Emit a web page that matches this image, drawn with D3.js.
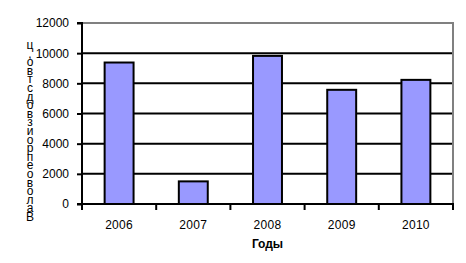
<!DOCTYPE html>
<html>
<head>
<meta charset="utf-8">
<script src="https://cdn.jsdelivr.net/npm/d3@7"></script>
<style>
  body { margin: 0; background: #fff; }
  svg { display: block; font-family: Arial, "Liberation Sans", sans-serif; }
</style>
</head>
<body>
<svg id="chart" width="466" height="263"></svg>
<script>
const years = ['2006', '2007', '2008', '2009', '2010'];
const output = [9380, 1500, 9820, 7570, 8230];
const yTicks = [0, 2000, 4000, 6000, 8000, 10000, 12000];
const xTitle = 'Годы';
const yTitle = 'Валовое производство, ц';

const svg = d3.select('#chart');
const plotLeft = 82, plotRight = 453, plotTop = 23, plotBottom = 204;

const x = d3.scaleBand().domain(years).range([plotLeft, plotRight]).paddingInner(0.61).paddingOuter(0.305);
const y = d3.scaleLinear().domain([0, 12000]).range([plotBottom, plotTop]);

// gridlines (top one is the grey frame)
svg.append('g').selectAll('line').data(yTicks.filter((t) => t > 0 && t < 12000)).join('line')
  .attr('x1', plotLeft).attr('x2', plotRight)
  .attr('y1', (d) => y(d)).attr('y2', (d) => y(d))
  .attr('stroke', '#000').attr('stroke-width', 2);

svg.append('path')
  .attr('d', `M${plotLeft},${y(12000)}H${plotRight}V${plotBottom}`)
  .attr('fill', 'none').attr('stroke', '#808080').attr('stroke-width', 2);

// bars
svg.append('g').selectAll('rect').data(output).join('rect')
  .attr('x', (_, i) => x(years[i]))
  .attr('y', (d) => y(d))
  .attr('width', x.bandwidth())
  .attr('height', (d) => plotBottom - y(d))
  .attr('fill', '#9999ff').attr('stroke', '#000').attr('stroke-width', 2);

// y axis
const yAxis = svg.append('g').attr('transform', `translate(${plotLeft},0)`)
  .call(d3.axisLeft(y).tickValues(yTicks).tickSize(5).tickPadding(8).tickFormat(d3.format('d')));
yAxis.select('.domain').attr('stroke', '#000').attr('stroke-width', 2).attr('d', `M-5,${y(12000)}H0V${plotBottom}H-5`);
yAxis.selectAll('.tick line').attr('stroke', '#000').attr('stroke-width', 2);
yAxis.selectAll('.tick text').attr('font-size', 12).attr('fill', '#000');

// x axis with ticks between categories
const xAxis = svg.append('g').attr('transform', `translate(0,${plotBottom})`);
xAxis.append('line').attr('x1', plotLeft - 1).attr('x2', plotRight + 1).attr('stroke', '#000').attr('stroke-width', 2);
const edges = d3.range(years.length + 1).map((i) => plotLeft + i * (plotRight - plotLeft) / years.length);
xAxis.selectAll('line.tk').data(edges).join('line').attr('class', 'tk')
  .attr('x1', (d) => d).attr('x2', (d) => d).attr('y1', 0).attr('y2', 6)
  .attr('stroke', '#000').attr('stroke-width', 2);
xAxis.selectAll('text').data(years).join('text')
  .attr('x', (d) => x(d) + x.bandwidth() / 2).attr('y', 25)
  .attr('text-anchor', 'middle').attr('font-size', 12).attr('letter-spacing', 0.3)
  .text((d) => d);

// titles
svg.append('text').attr('x', (plotLeft + plotRight) / 2).attr('y', 248)
  .attr('text-anchor', 'middle').attr('font-size', 12).attr('font-weight', 'bold').text(xTitle);

// stacked vertical title, read bottom-up; the space takes no extra room
const chars = Array.from(yTitle).reverse();
let offset = 0;
const charY = chars.map((c) => {
  const v = 49 + offset;
  if (c !== ' ') offset += 8.6;
  return v;
});
svg.append('g').selectAll('text').data(chars).join('text')
  .attr('x', 30).attr('y', (_, i) => charY[i])
  .attr('text-anchor', 'middle').attr('font-size', 12)
  .text((d) => d);
</script>
</body>
</html>
